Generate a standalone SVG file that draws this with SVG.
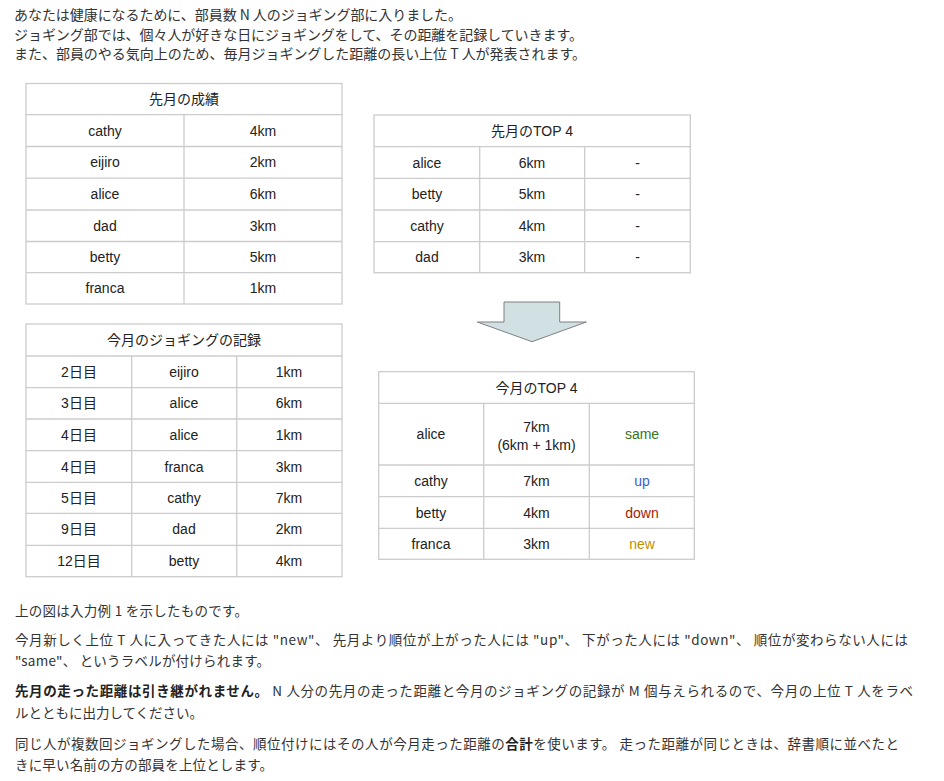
<svg xmlns="http://www.w3.org/2000/svg" width="944" height="781" viewBox="0 0 944 781">
<style>
.bg{fill:#ffffff}
.para{font-family:"Noto Sans CJK JP","Noto Sans",sans-serif;font-size:14px;fill:#333333}
.para2{font-family:"Noto Sans CJK JP","Noto Sans",sans-serif;font-size:13.5px;fill:#333333}
.b{font-weight:bold;fill:#222222}
.cell{font-family:"Liberation Sans",Arial,"Noto Sans CJK JP",sans-serif;font-size:14px;fill:#222222;text-anchor:middle}
.tbl{fill:#ffffff;stroke:#cccccc;stroke-width:1.3}
.ln{stroke:#cccccc;stroke-width:1.3}
.same{fill:#38761d}
.up{fill:#3c5ec4}
.down{fill:#a61c00}
.new{fill:#bf9000}
.arrow{fill:#d0e0e3;stroke:#7f7f7f;stroke-width:1}
</style>
<rect class="bg" x="0" y="0" width="944" height="781"/>

<g id="intro">
<text class="para" x="14" y="20" textLength="448" lengthAdjust="spacing">あなたは健康になるために、部員数 N 人のジョギング部に入りました。</text>
<text class="para" x="14" y="39.5" textLength="569" lengthAdjust="spacing">ジョギング部では、個々人が好きな日にジョギングをして、その距離を記録していきます。</text>
<text class="para" x="14" y="58.5" textLength="572" lengthAdjust="spacing">また、部員のやる気向上のため、毎月ジョギングした距離の長い上位 T 人が発表されます。</text>
</g>

<g id="table-last-month">
<rect class="tbl" x="26" y="83.5" width="316" height="220.5"/>
<line class="ln" x1="26" y1="114.7" x2="342" y2="114.7"/>
<line class="ln" x1="26" y1="146.5" x2="342" y2="146.5"/>
<line class="ln" x1="26" y1="178.2" x2="342" y2="178.2"/>
<line class="ln" x1="26" y1="210" x2="342" y2="210"/>
<line class="ln" x1="26" y1="241.5" x2="342" y2="241.5"/>
<line class="ln" x1="26" y1="272.7" x2="342" y2="272.7"/>
<line class="ln" x1="184" y1="114.7" x2="184" y2="304"/>
<text class="cell" x="184" y="104.3">先月の成績</text>
<text class="cell" x="105" y="135.7">cathy</text><text class="cell" x="263" y="135.7">4km</text>
<text class="cell" x="105" y="167.4">eijiro</text><text class="cell" x="263" y="167.4">2km</text>
<text class="cell" x="105" y="199.1">alice</text><text class="cell" x="263" y="199.1">6km</text>
<text class="cell" x="105" y="230.8">dad</text><text class="cell" x="263" y="230.8">3km</text>
<text class="cell" x="105" y="262.1">betty</text><text class="cell" x="263" y="262.1">5km</text>
<text class="cell" x="105" y="293.4">franca</text><text class="cell" x="263" y="293.4">1km</text>
</g>

<g id="table-last-top4">
<rect class="tbl" x="374" y="115" width="316.3" height="157.7"/>
<line class="ln" x1="374" y1="146.7" x2="690.3" y2="146.7"/>
<line class="ln" x1="374" y1="178.3" x2="690.3" y2="178.3"/>
<line class="ln" x1="374" y1="210" x2="690.3" y2="210"/>
<line class="ln" x1="374" y1="241.7" x2="690.3" y2="241.7"/>
<line class="ln" x1="479.7" y1="146.7" x2="479.7" y2="272.7"/>
<line class="ln" x1="584.7" y1="146.7" x2="584.7" y2="272.7"/>
<text class="cell" x="532" y="135.8">先月のTOP 4</text>
<text class="cell" x="427" y="167.5">alice</text><text class="cell" x="532" y="167.5">6km</text><text class="cell" x="637.5" y="167.5">-</text>
<text class="cell" x="427" y="199.1">betty</text><text class="cell" x="532" y="199.1">5km</text><text class="cell" x="637.5" y="199.1">-</text>
<text class="cell" x="427" y="230.8">cathy</text><text class="cell" x="532" y="230.8">4km</text><text class="cell" x="637.5" y="230.8">-</text>
<text class="cell" x="427" y="262.2">dad</text><text class="cell" x="532" y="262.2">3km</text><text class="cell" x="637.5" y="262.2">-</text>
</g>

<g id="connectors">
<polygon class="arrow" points="504,302 559.7,302 559.7,322 586.3,322 532,341.7 477.3,322 504,322"/>
</g>

<g id="table-this-month-log">
<rect class="tbl" x="26" y="324" width="316" height="252.7"/>
<line class="ln" x1="26" y1="356" x2="342" y2="356"/>
<line class="ln" x1="26" y1="387.7" x2="342" y2="387.7"/>
<line class="ln" x1="26" y1="419" x2="342" y2="419"/>
<line class="ln" x1="26" y1="450.7" x2="342" y2="450.7"/>
<line class="ln" x1="26" y1="482.3" x2="342" y2="482.3"/>
<line class="ln" x1="26" y1="513.3" x2="342" y2="513.3"/>
<line class="ln" x1="26" y1="545.3" x2="342" y2="545.3"/>
<line class="ln" x1="131.7" y1="356" x2="131.7" y2="576.7"/>
<line class="ln" x1="236.7" y1="356" x2="236.7" y2="576.7"/>
<text class="cell" x="184" y="345">今月のジョギングの記録</text>
<text class="cell" x="79" y="377">2日目</text><text class="cell" x="184" y="377">eijiro</text><text class="cell" x="289" y="377">1km</text>
<text class="cell" x="79" y="408.4">3日目</text><text class="cell" x="184" y="408.4">alice</text><text class="cell" x="289" y="408.4">6km</text>
<text class="cell" x="79" y="439.9">4日目</text><text class="cell" x="184" y="439.9">alice</text><text class="cell" x="289" y="439.9">1km</text>
<text class="cell" x="79" y="471.5">4日目</text><text class="cell" x="184" y="471.5">franca</text><text class="cell" x="289" y="471.5">3km</text>
<text class="cell" x="79" y="502.8">5日目</text><text class="cell" x="184" y="502.8">cathy</text><text class="cell" x="289" y="502.8">7km</text>
<text class="cell" x="79" y="534.3">9日目</text><text class="cell" x="184" y="534.3">dad</text><text class="cell" x="289" y="534.3">2km</text>
<text class="cell" x="79" y="566">12日目</text><text class="cell" x="184" y="566">betty</text><text class="cell" x="289" y="566">4km</text>
</g>

<g id="table-this-top4">
<rect class="tbl" x="378.7" y="371.7" width="315.6" height="187.6"/>
<line class="ln" x1="378.7" y1="403.3" x2="694.3" y2="403.3"/>
<line class="ln" x1="378.7" y1="465" x2="694.3" y2="465"/>
<line class="ln" x1="378.7" y1="496.7" x2="694.3" y2="496.7"/>
<line class="ln" x1="378.7" y1="528.3" x2="694.3" y2="528.3"/>
<line class="ln" x1="483.7" y1="403.3" x2="483.7" y2="559.3"/>
<line class="ln" x1="589.3" y1="403.3" x2="589.3" y2="559.3"/>
<text class="cell" x="536.5" y="392.5">今月のTOP 4</text>
<text class="cell" x="431" y="439.2">alice</text>
<text class="cell" x="536.5" y="431.7">7km</text>
<text class="cell" x="536.5" y="450">(6km + 1km)</text>
<text class="cell same" x="642" y="439.2">same</text>
<text class="cell" x="431" y="486">cathy</text><text class="cell" x="536.5" y="486">7km</text><text class="cell up" x="642" y="486">up</text>
<text class="cell" x="431" y="517.5">betty</text><text class="cell" x="536.5" y="517.5">4km</text><text class="cell down" x="642" y="517.5">down</text>
<text class="cell" x="431" y="549">franca</text><text class="cell" x="536.5" y="549">3km</text><text class="cell new" x="642" y="549">new</text>
</g>

<g id="explanation">
<text class="para2" x="15" y="616.4" textLength="233" lengthAdjust="spacing">上の図は入力例 1 を示したものです。</text>
<text class="para2" x="15" y="644.7" textLength="893" lengthAdjust="spacing">今月新しく上位 T 人に入ってきた人には "new"、 先月より順位が上がった人には "up"、 下がった人には "down"、 順位が変わらない人には</text>
<text class="para2" x="15" y="665.7" textLength="255" lengthAdjust="spacing">"same"、 というラベルが付けられます。</text>
<text class="para2" x="15" y="695.7" textLength="898" lengthAdjust="spacing"><tspan class="b">先月の走った距離は引き継がれません。</tspan> N 人分の先月の走った距離と今月のジョギングの記録が M 個与えられるので、今月の上位 T 人をラベ</text>
<text class="para2" x="15" y="717.7" textLength="188" lengthAdjust="spacing">ルとともに出力してください。</text>
<text class="para2" x="15" y="748.7" textLength="884" lengthAdjust="spacing">同じ人が複数回ジョギングした場合、順位付けにはその人が今月走った距離の<tspan class="b">合計</tspan>を使います。 走った距離が同じときは、辞書順に並べたと</text>
<text class="para2" x="15" y="769.7" textLength="258" lengthAdjust="spacing">きに早い名前の方の部員を上位とします。</text>
</g>
</svg>
